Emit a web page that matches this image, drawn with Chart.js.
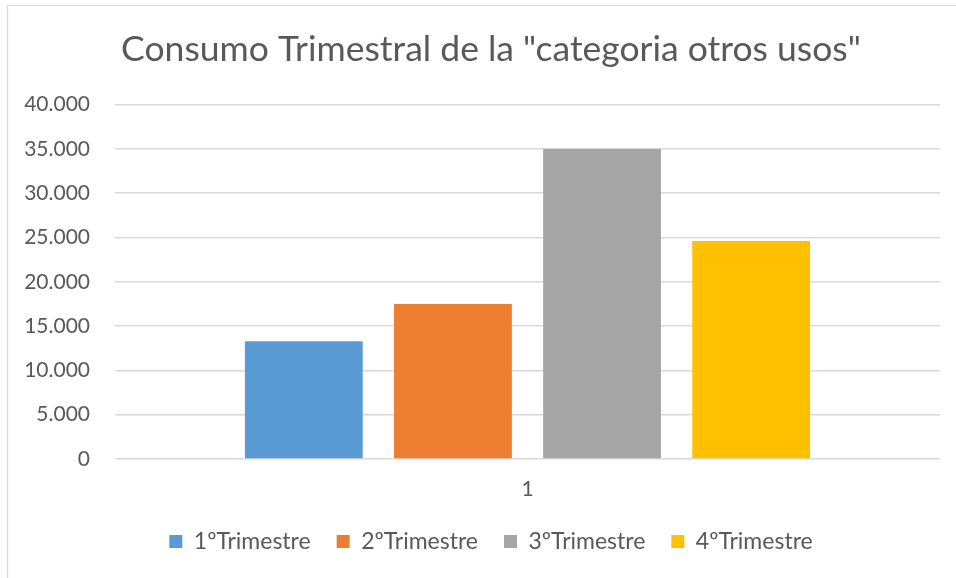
<!DOCTYPE html>
<html>
<head>
<meta charset="utf-8">
<script src="https://cdn.jsdelivr.net/npm/chart.js@4"></script>
<style>
    body { margin: 0; background: #fff; }
    canvas { display: block; }
</style>
</head>
<body>
<canvas id="graficoBarras" width="956" height="578"></canvas>
<script>
// dados do grafico
const categorias = ['1'];
const trimestres = ['1ºTrimestre', '2ºTrimestre', '3ºTrimestre', '4ºTrimestre'];
const consumo = [13300, 17500, 35000, 24600];
const ticksY = [0, 5000, 10000, 15000, 20000, 25000, 30000, 35000, 40000];

const cores = ['#5B9BD5', '#ED7D31', '#A5A5A5', '#FFC000'];
const corTexto = '#595959';
const corGrade = '#D9D9D9';
const fonte = 'Lato';

// separador de milhar com ponto (40.000)
function formatar(v) {
    return v.toString().replace(/\B(?=(\d{3})+(?!\d))/g, '.');
}

const datasets = trimestres.map(function(t, i) {
    return {
        label: t,
        data: [consumo[i]],
        backgroundColor: cores[i],
        borderWidth: 0,
        categoryPercentage: 0.723,
        barPercentage: 0.79
    };
});

// moldura cinza em volta do grafico
const moldura = {
    id: 'moldura',
    beforeDraw: function(chart) {
        const ctx = chart.ctx;
        ctx.save();
        ctx.strokeStyle = corGrade;
        ctx.lineWidth = 1.2;
        ctx.strokeRect(7.5, 5.5, 1000, 700);
        ctx.restore();
    }
};

// altura fixa da legenda
const alturaLegenda = {
    id: 'alturaLegenda',
    beforeInit: function(chart) {
        const legenda = chart.legend;
        if (!legenda) return;
        const fitOriginal = legenda.fit;
        legenda.fit = function() {
            fitOriginal.call(this);
            this.height = 74;
        };
    },
    // titulo e legenda ficam um pouco para a direita, como no Excel
    afterLayout: function(chart) {
        if (chart.titleBlock) chart.titleBlock.left += 42;
        if (chart.legend) chart.legend.left += 42;
    }
};

const ctx = document.getElementById('graficoBarras').getContext('2d');
const grafico = new Chart(ctx, {
    type: 'bar',
    data: {
        labels: categorias,
        datasets: datasets
    },
    options: {
        responsive: false,
        animation: false,
        layout: { padding: { top: 0, right: 16, bottom: 0, left: 0 } },
        plugins: {
            title: {
                display: true,
                text: 'Consumo Trimestral de la "categoria otros usos"',
                color: corTexto,
                font: { family: fonte, size: 35.5, weight: 'normal' },
                padding: { top: 28, bottom: 34 }
            },
            legend: {
                position: 'bottom',
                labels: {
                    color: corTexto,
                    font: { family: fonte, size: 23 },
                    boxWidth: 13,
                    boxHeight: 13,
                    padding: 26
                }
            },
            tooltip: { enabled: false }
        },
        scales: {
            x: {
                afterFit: function(scale) { scale.height = 45; },
                grid: { display: false },
                border: { display: false },
                ticks: {
                    color: corTexto,
                    font: { family: fonte, size: 21 },
                    padding: 10
                }
            },
            y: {
                min: 0,
                max: 40000,
                afterFit: function(scale) { scale.width = 115; },
                afterBuildTicks: function(scale) {
                    scale.ticks = ticksY.map(function(v) { return { value: v }; });
                },
                grid: { color: corGrade, lineWidth: 1.5, drawTicks: false },
                border: { display: false },
                ticks: {
                    color: corTexto,
                    font: { family: fonte, size: 21 },
                    padding: 25,
                    callback: function(v) { return formatar(v); }
                }
            }
        }
    },
    plugins: [moldura, alturaLegenda]
});
</script>
</body>
</html>
